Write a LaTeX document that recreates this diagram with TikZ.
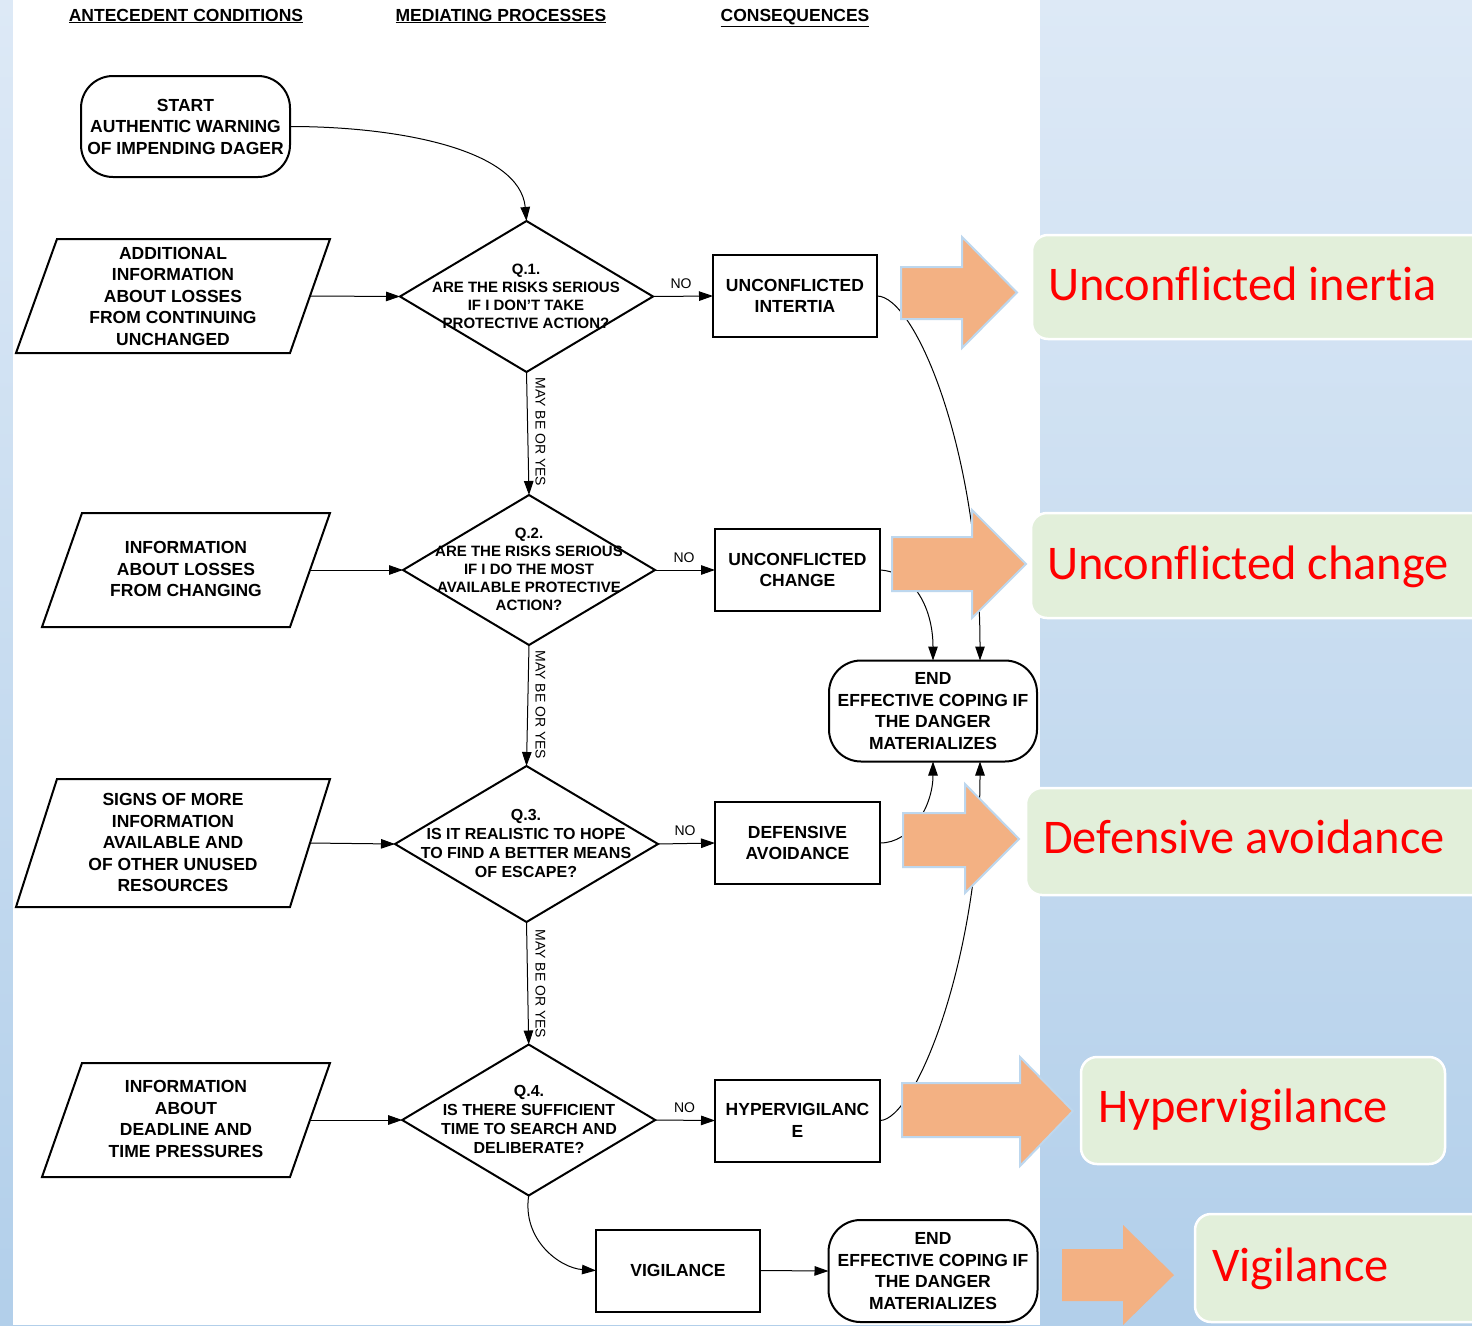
\documentclass[tikz,border=0pt]{standalone}
\usepackage{fontspec}
\setmainfont{Liberation Sans}
\newfontfamily\calib[Ligatures={NoCommon}]{Carlito}
\usetikzlibrary{shapes.geometric,arrows.meta,calc}

\definecolor{bgtop}{RGB}{221,233,246}
\definecolor{bgbot}{RGB}{178,207,234}
\definecolor{salmon}{RGB}{243,177,131}
\definecolor{arrowedge}{RGB}{189,215,238}
\definecolor{labfill}{RGB}{226,239,218}
\definecolor{labred}{RGB}{255,0,0}

\begin{document}
\begin{tikzpicture}[x=1pt,y=-1pt,
  every node/.style={inner sep=0pt, outer sep=0pt},
  boxtxt/.style={font=\bfseries\fontsize{17.5}{21.5}\selectfont, align=center},
  dtxt/.style={font=\bfseries\fontsize{15}{18}\selectfont, align=center},
  dtxtb/.style={font=\bfseries\fontsize{16}{19}\selectfont, align=center},
  rbox/.style={draw, line width=2pt, minimum width=164pt, minimum height=82pt},
  ebox/.style={draw, line width=2pt, rounded corners=32pt, minimum width=208pt, minimum height=101pt},
  dmd/.style={draw, diamond, line width=2pt},
  conn/.style={line width=1pt, -{Triangle[length=14pt,width=9.5pt]}},
  nolab/.style={font=\fontsize{14}{14}\selectfont},
  yeslab/.style={font=\fontsize{14}{14}\selectfont, rotate=-90},
  hdr/.style={font=\bfseries\fontsize{17.5}{21}\selectfont, anchor=base},
  blockarrow/.style={fill=salmon, draw=arrowedge, line width=2pt, line join=miter},
  labbox/.style={fill=labfill, draw=white, line width=2.5pt, rounded corners=16pt},
  labtxt/.style={font=\calib\fontsize{48.4}{48.4}\selectfont, text=labred, anchor=base west},
]
\useasboundingbox (0,0) rectangle (1472,1325);
\clip (0,0) rectangle (1472,1325);

% background
\shade[top color=bgtop, bottom color=bgbot] (0,0) rectangle (1472,1325);
\fill[white] (13,0) rectangle (1040,1325);

% headers
\node[hdr] (h1) at (186,21) {\underline{ANTECEDENT CONDITIONS}};
\node[hdr] (h2) at (501,21) {\underline{MEDIATING PROCESSES}};
\node[hdr] (h3) at (795,21) {\underline{CONSEQUENCES}};

% start
\node[ebox, minimum width=209pt, boxtxt] (start) at (185.5,126.5) {START\\AUTHENTIC WARNING\\OF IMPENDING DAGER};

% parallelograms
\draw[line width=2pt] (57,239) -- (330,239) -- (290,353) -- (16,353) -- cycle;
\node[boxtxt] (p1) at (173,296) {ADDITIONAL\\INFORMATION\\ABOUT LOSSES\\FROM CONTINUING\\UNCHANGED};
\coordinate (p1r) at (310,296);

\draw[line width=2pt] (82,513) -- (330,513) -- (290,627) -- (42,627) -- cycle;
\node[boxtxt] (p2) at (186,569) {INFORMATION\\ABOUT LOSSES\\FROM CHANGING};
\coordinate (p2r) at (310,570);

\draw[line width=2pt] (57,779) -- (330,779) -- (290,907) -- (16,907) -- cycle;
\node[boxtxt] (p3) at (173,842.5) {SIGNS OF MORE\\INFORMATION\\AVAILABLE AND\\OF OTHER UNUSED\\RESOURCES};
\coordinate (p3r) at (310,843);

\draw[line width=2pt] (82,1063) -- (330,1063) -- (290,1177) -- (42,1177) -- cycle;
\node[boxtxt] (p4) at (186,1119) {INFORMATION\\ABOUT\\DEADLINE AND\\TIME PRESSURES};
\coordinate (p4r) at (310,1120);

% diamonds
\node[dmd, minimum width=253pt, minimum height=151pt] (q1) at (526.5,296.5) {};
\node[dtxt] (q1t) at (526,296) {Q.1.\\ARE THE RISKS SERIOUS\\IF I DON’T TAKE\\PROTECTIVE ACTION?};
\node[dmd, minimum width=252pt, minimum height=150pt] (q2) at (529,570) {};
\node[dtxt] (q2t) at (529,569) {Q.2.\\ARE THE RISKS SERIOUS\\IF I DO THE MOST\\AVAILABLE PROTECTIVE\\ACTION?};
\node[dmd, minimum width=263pt, minimum height=156pt] (q3) at (526.5,844) {};
\node[dtxtb] (q3t) at (526,843.5) {Q.3.\\IS IT REALISTIC TO HOPE\\TO FIND A BETTER MEANS\\OF ESCAPE?};
\node[dmd, minimum width=253pt, minimum height=151pt] (q4) at (528.7,1120) {};
\node[dtxtb] (q4t) at (529,1119.5) {Q.4.\\IS THERE SUFFICIENT\\TIME TO SEARCH AND\\DELIBERATE?};

% outcome boxes
\node[rbox, boxtxt] (ui) at (795,296) {UNCONFLICTED\\INTERTIA};
\node[rbox, boxtxt, minimum width=165pt] (uc) at (797.5,570) {UNCONFLICTED\\CHANGE};
\node[rbox, boxtxt, minimum width=165pt] (da) at (797.5,843) {DEFENSIVE\\AVOIDANCE};
\node[rbox, boxtxt, minimum width=165pt] (hv) at (797.5,1120.5) {HYPERVIGILANC\\E};
\node[rbox, boxtxt] (vig) at (678,1270.5) {VIGILANCE};
\node[ebox, boxtxt] (end1) at (933,711) {END\\EFFECTIVE COPING IF\\THE DANGER\\MATERIALIZES};
\node[ebox, boxtxt, minimum width=209pt, minimum height=102pt] (end2) at (933,1271) {END\\EFFECTIVE COPING IF\\THE DANGER\\MATERIALIZES};

% connectors
\draw[conn] (start.east) .. controls (400,126.5) and (520,150) .. (q1.north);
\draw[conn] (p1r) -- (q1.west);
\draw[conn] (p2r) -- (q2.west);
\draw[conn] (p3r) -- (q3.west);
\draw[conn] (p4r) -- (q4.west);

\draw[conn] (q1.east) -- (ui.west);
\draw[conn] (q2.east) -- (uc.west);
\draw[conn] (q3.east) -- (da.west);
\draw[conn] (q4.east) -- (hv.west);
\node[nolab] (no1) at (681,284) {NO};
\node[nolab] (no2) at (684,557.5) {NO};
\node[nolab] (no3) at (685,831) {NO};
\node[nolab] (no4) at (684.5,1108) {NO};

\draw[conn] (q1.south) -- (q2.north);
\draw[conn] (q2.south) -- (q3.north);
\draw[conn] (q3.south) -- (q4.north);
\node[yeslab] (y1) at (540.5,432) {MAY BE OR YES};
\node[yeslab] (y2) at (540.5,705) {MAY BE OR YES};
\node[yeslab] (y3) at (540.5,984) {MAY BE OR YES};

\draw[conn] (q4.south) .. controls (522,1240) and (560,1268) .. (vig.west);
\draw[conn] (vig.east) -- (end2.west);

\draw[conn] (ui.east) .. controls (915,296) and (980,450) .. ([xshift=47pt]end1.north);
\draw[conn] (uc.east) .. controls (915,572) and (933,610) .. (end1.north);
\draw[conn] (da.east) .. controls (912,843) and (933,805) .. (end1.south);
\draw[conn] (hv.east) .. controls (915,1120) and (980,960) .. ([xshift=47pt]end1.south);

% label boxes
\node[labbox, minimum width=458pt, minimum height=104pt] (lab1) at (1261,287) {};
\node[labbox, minimum width=459pt, minimum height=105pt] (lab2) at (1260.5,565.5) {};
\node[labbox, minimum width=464pt, minimum height=107pt] (lab3) at (1258,841.5) {};
\node[labbox, minimum width=364pt, minimum height=107pt] (lab4) at (1263,1110.5) {};
\node[labbox, minimum width=295pt, minimum height=108pt] (lab5) at (1342.5,1268) {};
\node[labtxt] (lab1t) at (1048,300) {Unconflicted inertia};
\node[labtxt] (lab2t) at (1047,579) {Unconflicted change};
\node[labtxt] (lab3t) at (1043,853) {Defensive avoidance};
\node[labtxt] (lab4t) at (1098,1122.5) {Hypervigilance};
\node[labtxt] (lab5t) at (1212,1281.5) {Vigilance};

% block arrows
\draw[blockarrow] (901,267) -- (962,267) -- (962,237) -- (1017,292.5) -- (962,348) -- (962,319) -- (901,319) -- cycle;
\draw[blockarrow] (892,537) -- (972,537) -- (972,510) -- (1026,564) -- (972,618) -- (972,591) -- (892,591) -- cycle;
\draw[blockarrow] (903,813) -- (965,813) -- (965,784) -- (1019,839) -- (965,893) -- (965,867) -- (903,867) -- cycle;
\draw[blockarrow] (902,1083) -- (1020,1083) -- (1020,1057) -- (1073,1111) -- (1020,1166) -- (1020,1137) -- (902,1137) -- cycle;
\fill[salmon] (1062,1249) -- (1123,1249) -- (1123,1225) -- (1174,1275) -- (1123,1325) -- (1123,1301) -- (1062,1301) -- cycle;
\end{tikzpicture}
\end{document}
